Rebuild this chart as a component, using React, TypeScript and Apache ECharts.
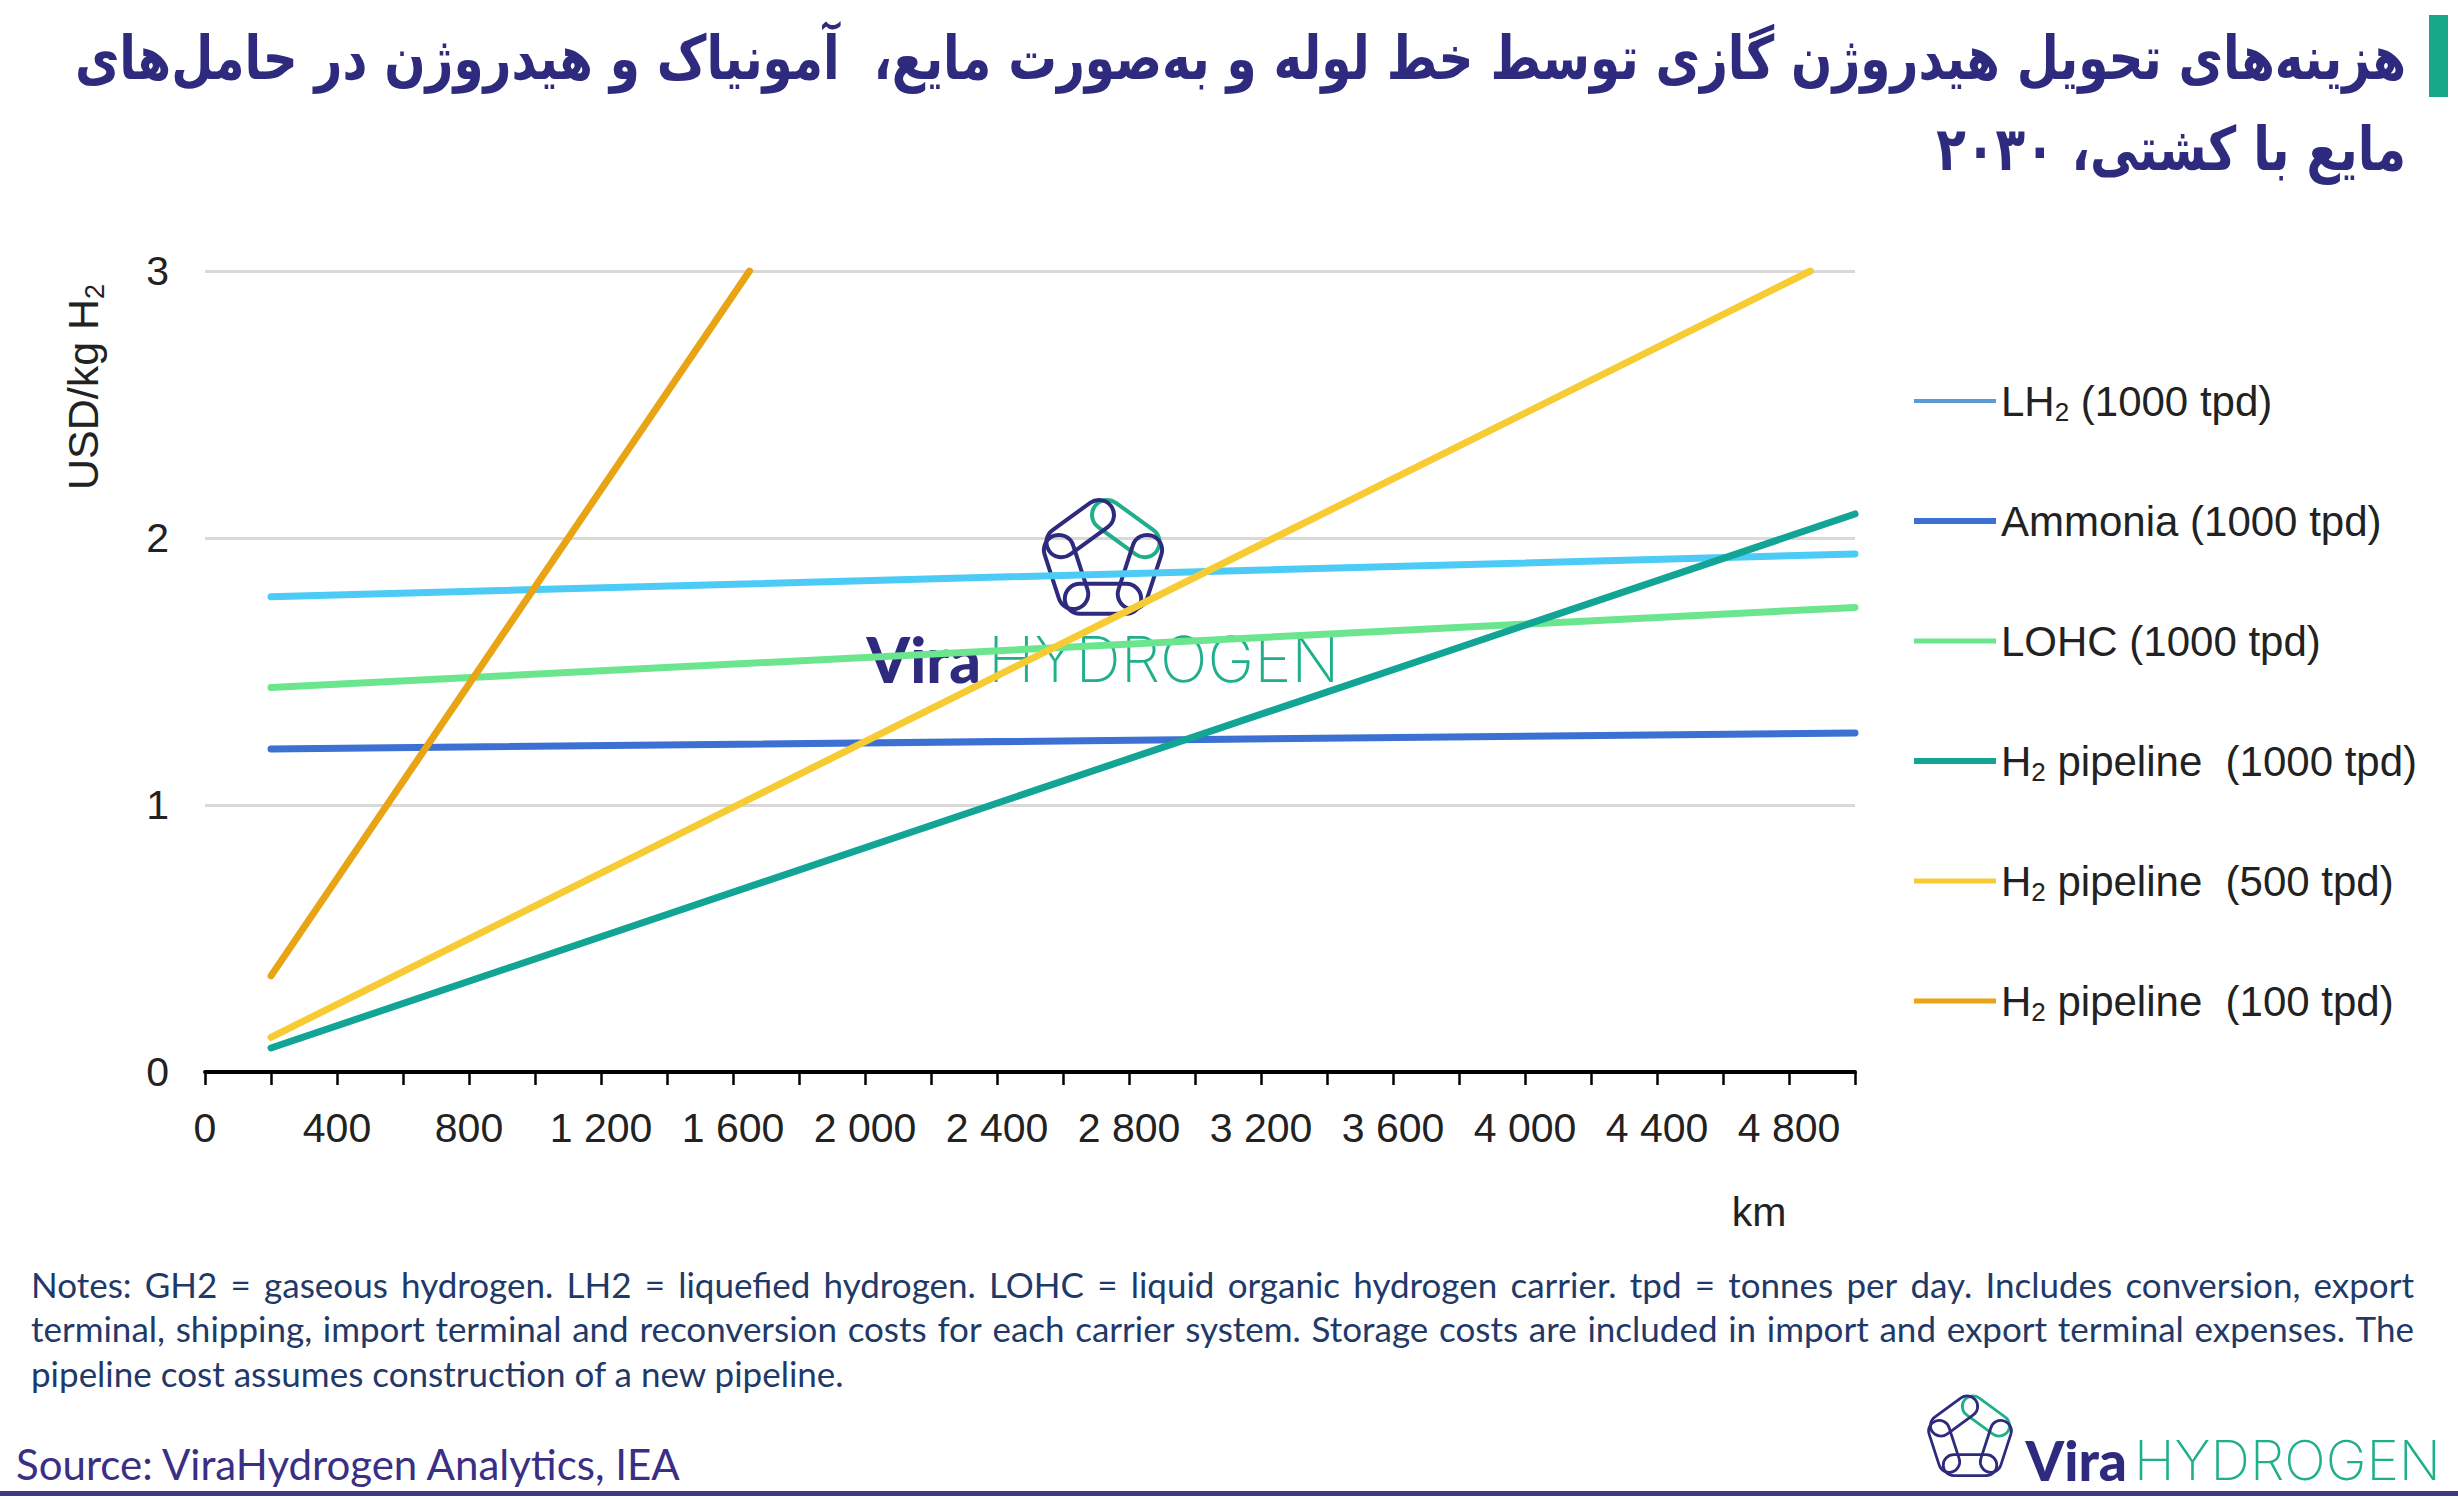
import React, { useEffect, useRef } from "react";
import * as echarts from "echarts";

// ---- data ----
const seriesNames = [
  "LH2 (1000 tpd)",
  "Ammonia (1000 tpd)",
  "LOHC (1000 tpd)",
  "H2 pipeline  (1000 tpd)",
  "H2 pipeline  (500 tpd)",
  "H2 pipeline  (100 tpd)",
];
const kmLH2 = [200, 5000];
const costLH2 = [1.78, 1.94];
const kmAmmonia = [200, 5000];
const costAmmonia = [1.21, 1.27];
const kmLOHC = [200, 5000];
const costLOHC = [1.44, 1.74];
const kmPipe1000 = [200, 5000];
const costPipe1000 = [0.09, 2.09];
const kmPipe500 = [200, 4865];
const costPipe500 = [0.13, 3.0];
const kmPipe100 = [200, 1650];
const costPipe100 = [0.36, 3.0];
const yTicks = [0, 1, 2, 3];

const titleLine1 = "هزینه‌های تحویل هیدروژن گازی توسط خط لوله و به‌صورت مایع،  آمونیاک و هیدروژن در حامل‌های";
const titleLine2 = "مایع با کشتی، ۲۰۳۰";
const notes = [
  "Notes: GH2 = gaseous hydrogen. LH2 = liquefied hydrogen. LOHC = liquid organic hydrogen carrier. tpd = tonnes per day. Includes conversion, export",
  "terminal, shipping, import terminal and reconversion costs for each carrier system. Storage costs are included in import and export terminal expenses. The",
  "pipeline cost assumes construction of a new pipeline.",
];
const notesJustified = [true, true, false];
const sourceText = "Source: ViraHydrogen Analytics, IEA";

const lineColors = ["#4CCBF6", "#3C70D2", "#6BE68F", "#12A596", "#F7CB33", "#E8A414"];
const legendColors = ["#5B9BD5", "#3C70D2", "#6BE68F", "#12A596", "#F7CB33", "#E8A414"];
const legendWidths = [4, 6, 5, 6, 5, 5];

const NAVY = "#2E2A7E";
const GREEN = "#1FAF8B";

function zip(a: number[], b: number[]) {
  return a.map((v, i) => [v, b[i]]);
}

function chainLogo(cx: number, cy: number, s: number) {
  const R = 48 * s;
  const H = 30 * s;
  const L = 2 * R * Math.sin(Math.PI / 5) + 20 * s;
  const els: any[] = [];
  for (let k = 0; k < 5; k++) {
    const a1 = ((-90 + 72 * k) * Math.PI) / 180;
    const a2 = ((-90 + 72 * (k + 1)) * Math.PI) / 180;
    const x1 = cx + R * Math.cos(a1);
    const y1 = cy + R * Math.sin(a1);
    const x2 = cx + R * Math.cos(a2);
    const y2 = cy + R * Math.sin(a2);
    const th = Math.atan2(y2 - y1, x2 - x1);
    els.push({
      type: "rect",
      x: (x1 + x2) / 2,
      y: (y1 + y2) / 2,
      rotation: -th,
      z: 1,
      shape: { x: -L / 2, y: -H / 2, width: L, height: H, r: H / 2 },
      style: { fill: "none", stroke: k === 0 ? GREEN : NAVY, lineWidth: 4 * s },
    });
  }
  return els;
}

function fmtKm(v: number) {
  if (v % 400 !== 0) return "";
  return String(v).replace(/\B(?=(\d{3})+(?!\d))/g, " ");
}

// justified note line: one text element per word, spread over the given width
function noteLine(text: string, x0: number, x1: number, y: number, justify: boolean, fontSize: number, family: string, color: string) {
  const style = (t: string) => ({ text: t, textAlign: "left", verticalAlign: "middle", fontFamily: family, fontSize, fill: color });
  if (!justify) return [{ type: "text", x: x0, y, style: style(text) }];
  const canvas = document.createElement("canvas");
  const ctx = canvas.getContext("2d");
  if (!ctx) return [{ type: "text", x: x0, y, style: style(text) }];
  ctx.font = `${fontSize}px ${family}`;
  const words = text.split(" ");
  const widths = words.map((w) => ctx.measureText(w).width);
  const total = widths.reduce((a, b) => a + b, 0);
  const gap = (x1 - x0 - total) / (words.length - 1);
  const out: any[] = [];
  let x = x0;
  words.forEach((w, i) => {
    out.push({ type: "text", x, y, style: style(w) });
    x += widths[i] + gap;
  });
  return out;
}

export default function App() {
  const ref = useRef<HTMLDivElement>(null);
  useEffect(() => {
    if (!ref.current) return;
    const chart = echarts.init(ref.current, undefined, { renderer: "svg" });
    const datas = [
      zip(kmLH2, costLH2),
      zip(kmAmmonia, costAmmonia),
      zip(kmLOHC, costLOHC),
      zip(kmPipe1000, costPipe1000),
      zip(kmPipe500, costPipe500),
      zip(kmPipe100, costPipe100),
    ];
    const font = "Liberation Sans, Arial, sans-serif";
    const noteY = [1284, 1328, 1373];
    const graphics: any[] = [
      // title
      {
        type: "text",
        x: 2406,
        y: 58,
        scaleY: 1.25,
        style: {
          text: titleLine1,
          textAlign: "right",
          verticalAlign: "middle",
          fontFamily: "DejaVu Sans",
          fontWeight: "bold",
          fontSize: 48.5,
          fill: NAVY,
        },
      },
      {
        type: "text",
        x: 2406,
        y: 149,
        scaleY: 1.25,
        style: {
          text: titleLine2,
          textAlign: "right",
          verticalAlign: "middle",
          fontFamily: "DejaVu Sans",
          fontWeight: "bold",
          fontSize: 48.5,
          fill: NAVY,
        },
      },
      { type: "rect", shape: { x: 2429, y: 15, width: 19, height: 82 }, style: { fill: "#17A88A" } },
      // y axis title
      {
        type: "text",
        x: 83,
        y: 387,
        rotation: Math.PI / 2,
        style: {
          text: "USD/kg H{s|2}",
          textAlign: "center",
          verticalAlign: "middle",
          fontFamily: font,
          fontSize: 43,
          lineHeight: 50,
          fill: "#222",
          rich: { s: { fontSize: 27, lineHeight: 27, verticalAlign: "bottom", fontFamily: font, fill: "#222" } },
        },
      },
      // km
      {
        type: "text",
        x: 1759,
        y: 1212,
        style: { text: "km", textAlign: "center", verticalAlign: "middle", fontFamily: font, fontSize: 41, fill: "#222" },
      },
      // notes
      ...notes.flatMap((t, i) => noteLine(t, 31, 2414, noteY[i], notesJustified[i], 35, "Lato", "#1F3A68")),
      {
        type: "text",
        x: 16,
        y: 1464,
        style: { text: sourceText, textAlign: "left", verticalAlign: "middle", fontFamily: "Lato", fontSize: 42, fill: "#3A2F85" },
      },
      { type: "rect", shape: { x: 0, y: 1491, width: 2458, height: 5 }, style: { fill: "#3D3A85" } },
      // watermark logo
      ...chainLogo(1103, 560, 1),
      {
        type: "text",
        x: 981,
        y: 659,
        z: 1,
        style: { text: "Vira", textAlign: "right", verticalAlign: "middle", fontFamily: "Lato", fontWeight: 900, fontSize: 62, fill: NAVY },
      },
      {
        type: "text",
        x: 988,
        y: 659,
        z: 1,
        style: { text: "HYDROGEN", textAlign: "left", verticalAlign: "middle", fontFamily: "Inter", fontWeight: 200, fontSize: 63, fill: GREEN },
      },
      // bottom-right logo
      ...chainLogo(1970, 1438, 0.7),
      {
        type: "text",
        x: 2127,
        y: 1460,
        style: { text: "Vira", textAlign: "right", verticalAlign: "middle", fontFamily: "Lato", fontWeight: 900, fontSize: 55, fill: NAVY },
      },
      {
        type: "text",
        x: 2134,
        y: 1460,
        style: { text: "HYDROGEN", textAlign: "left", verticalAlign: "middle", fontFamily: "Inter", fontWeight: 200, fontSize: 55, fill: GREEN },
      },
    ];

    chart.setOption({
      animation: false,
      backgroundColor: "#fff",
      grid: { left: 205, right: 603, top: 271, bottom: 428, containLabel: false },
      xAxis: {
        type: "value",
        min: 0,
        max: 5000,
        interval: 200,
        axisLine: { show: true, lineStyle: { color: "#000", width: 4 } },
        axisTick: { show: true, length: 13, lineStyle: { color: "#000", width: 2.5 } },
        splitLine: { show: false },
        axisLabel: { formatter: fmtKm, fontFamily: font, fontSize: 41, color: "#222", margin: 35 },
      },
      yAxis: {
        type: "value",
        min: yTicks[0],
        max: yTicks[yTicks.length - 1],
        interval: 1,
        axisLine: { show: false },
        axisTick: { show: false },
        splitLine: { show: true, lineStyle: { color: "#D9D9D9", width: 3 } },
        axisLabel: { fontFamily: font, fontSize: 41, color: "#222", margin: 36 },
      },
      legend: {
        orient: "vertical",
        left: 1909,
        top: 372,
        itemWidth: 82,
        itemHeight: 14,
        itemGap: 72,
        symbolKeepAspect: true,
        textStyle: {
          fontFamily: font,
          fontSize: 42,
          lineHeight: 48,
          color: "#222",
          rich: { s: { fontSize: 26, lineHeight: 26, verticalAlign: "bottom", fontFamily: font, color: "#222" } },
        },
        formatter: (name: string) => name.replace("H2", "H{s|2}"),
        data: seriesNames.map((n, i) => ({
          name: n,
          icon: `path://M0,0 L80,0 L80,${legendWidths[i]} L0,${legendWidths[i]} Z`,
          itemStyle: { color: legendColors[i], borderWidth: 0 },
        })),
      },
      graphic: graphics,
      series: seriesNames.map((n, i) => ({
        name: n,
        type: "line",
        data: datas[i],
        symbol: "none",
        showSymbol: false,
        clip: true,
        z: 3,
        lineStyle: { color: lineColors[i], width: 7, cap: "round" },
        itemStyle: { color: lineColors[i] },
      })),
    });
    return () => chart.dispose();
  }, []);
  return <div ref={ref} style={{ position: "absolute", left: 0, top: 0, width: 2458, height: 1500 }} />;
}
